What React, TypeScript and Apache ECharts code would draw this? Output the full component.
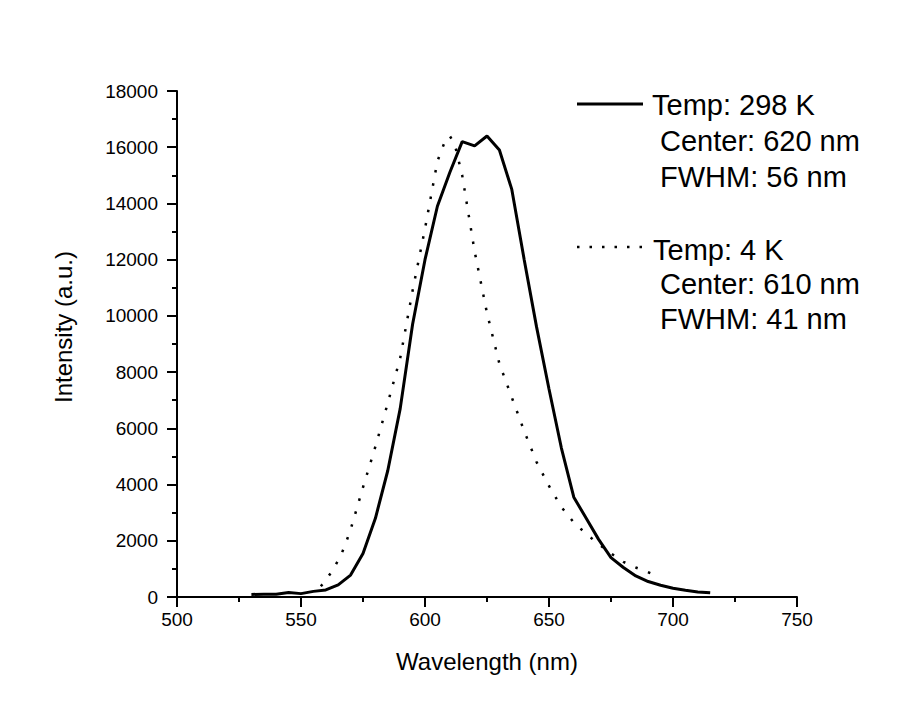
import React, { useEffect, useRef } from "react";
import * as echarts from "echarts";

// Wavelength (nm) and intensity (a.u.) for the 298 K spectrum
const wl298 = [530, 535, 540, 545, 550, 555, 560, 565, 570, 575, 580, 585, 590, 595, 600, 605, 610, 615, 620, 625, 630, 635, 640, 645, 650, 655, 660, 665, 670, 675, 680, 685, 690, 695, 700, 705, 710, 715];
const int298 = [90, 100, 100, 160, 120, 200, 250, 430, 780, 1550, 2800, 4500, 6700, 9700, 12000, 13900, 15100, 16200, 16050, 16400, 15900, 14500, 12000, 9600, 7400, 5300, 3550, 2800, 2050, 1400, 1050, 750, 550, 420, 310, 240, 180, 150];

// Wavelength (nm) and intensity (a.u.) for the 4 K spectrum
const wl4 = [558, 560, 562, 564, 566, 568, 570, 575, 580, 585, 590, 595, 600, 605, 608, 610, 612, 615, 620, 625, 630, 635, 640, 645, 650, 655, 660, 665, 670, 675, 680, 685, 690, 693];
const int4 = [380, 600, 850, 1150, 1460, 1900, 2400, 3900, 5350, 6900, 8500, 10900, 13100, 15500, 16200, 16400, 16100, 15000, 12300, 10100, 8300, 7100, 5900, 4800, 3950, 3200, 2650, 2250, 1880, 1550, 1250, 1050, 880, 780];

const legendLines298 = ["Temp: 298 K", "Center: 620 nm", "FWHM: 56 nm"];
const legendLines4 = ["Temp: 4 K", "Center: 610 nm", "FWHM: 41 nm"];
const xTitle = "Wavelength (nm)";
const yTitle = "Intensity (a.u.)";

const FONT = "'Liberation Sans', Arial, sans-serif";
const O = 8; // body margin offset

export default function App() {
  const ref = useRef<HTMLDivElement>(null);
  useEffect(() => {
    if (!ref.current) return;
    const chart = echarts.init(ref.current, null, { renderer: "svg" });
    const d298 = wl298.map((x, i) => [x, int298[i]]);
    const d4 = wl4.map((x, i) => [x, int4[i]]);
    const axisCommon = {
      axisLine: { show: true, lineStyle: { color: "#000", width: 2 } },
      axisTick: { show: true, inside: false, length: 10, lineStyle: { color: "#000", width: 2 } },
      minorTick: { show: true, splitNumber: 2, length: 5, lineStyle: { color: "#000", width: 2 } },
      splitLine: { show: false },
      axisLabel: { color: "#000", fontSize: 19, fontFamily: FONT, formatter: (v: number) => String(v) },
      nameTextStyle: { color: "#000", fontSize: 24, fontFamily: FONT },
    };
    const textEl = (txt: string, x: number, y: number) => ({
      type: "text",
      x: x - O,
      y: y - O,
      style: { text: txt, fill: "#000", font: `29px ${FONT}`, textAlign: "left", textVerticalAlign: "middle" },
    });
    chart.setOption({
      animation: false,
      backgroundColor: "#fff",
      grid: { left: 177 - O, top: 91 - O, width: 620, height: 506, containLabel: false },
      xAxis: {
        type: "value",
        min: 500,
        max: 750,
        interval: 50,
        name: xTitle,
        nameLocation: "middle",
        nameGap: 52,
        ...axisCommon,
        axisLabel: { ...axisCommon.axisLabel, margin: 13 },
      },
      yAxis: {
        type: "value",
        min: 0,
        max: 18000,
        interval: 2000,
        ...axisCommon,
        axisLabel: { ...axisCommon.axisLabel, margin: 19 },
      },
      series: [
        {
          type: "line",
          data: d298,
          showSymbol: false,
          lineStyle: { color: "#000", width: 3 },
        },
        {
          type: "line",
          data: d4,
          showSymbol: false,
          lineStyle: { color: "#000", width: 2.5, type: [2.5, 11] },
        },
      ],
      graphic: [
        {
          type: "text",
          x: 63 - O,
          y: 327 - O,
          rotation: Math.PI / 2,
          style: { text: yTitle, fill: "#000", font: `24px ${FONT}`, textAlign: "center", textVerticalAlign: "middle" },
        },
        { type: "line", shape: { x1: 577 - O, y1: 104 - O, x2: 643 - O, y2: 104 - O }, style: { stroke: "#000", lineWidth: 3 } },
        textEl(legendLines298[0], 652, 105),
        textEl(legendLines298[1], 660, 141),
        textEl(legendLines298[2], 660, 177),
        { type: "line", shape: { x1: 577 - O, y1: 247 - O, x2: 643 - O, y2: 247 - O }, style: { stroke: "#000", lineWidth: 2.5, lineDash: [2.5, 10] } },
        textEl(legendLines4[0], 653, 250),
        textEl(legendLines4[1], 660, 284),
        textEl(legendLines4[2], 660, 319),
      ],
    });
    return () => chart.dispose();
  }, []);
  return <div ref={ref} style={{ width: 896, height: 690 }} />;
}
